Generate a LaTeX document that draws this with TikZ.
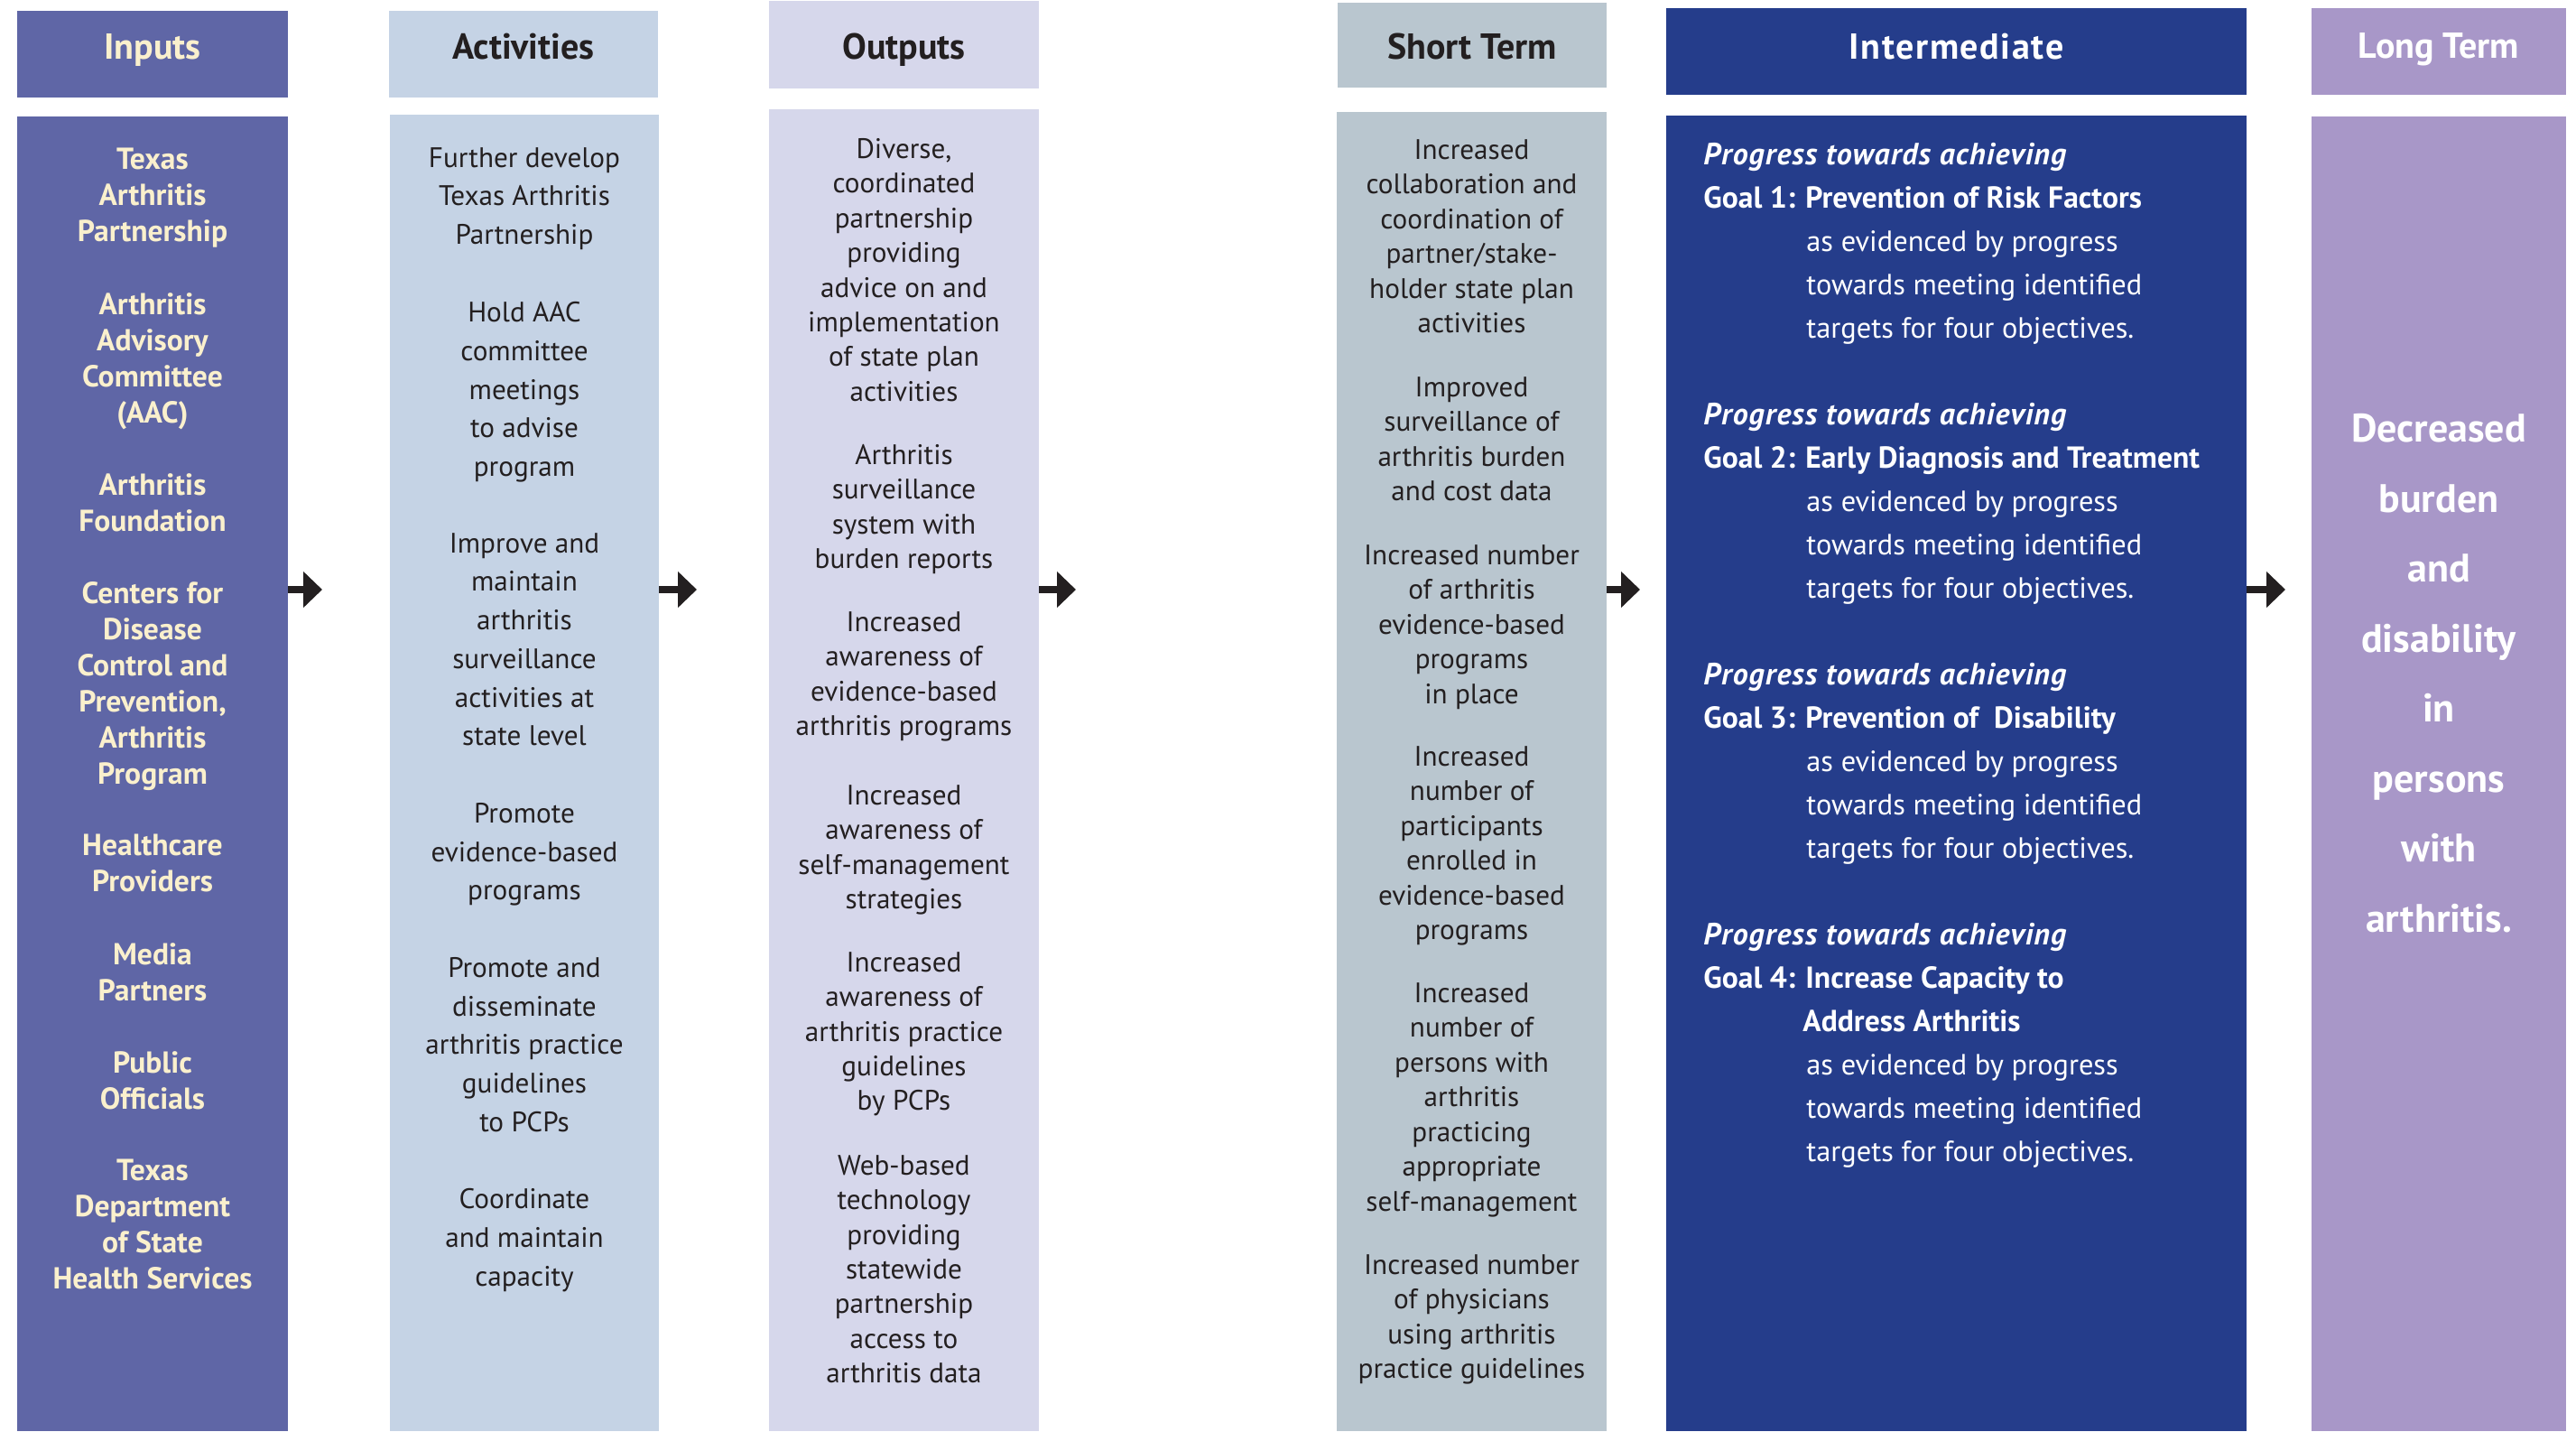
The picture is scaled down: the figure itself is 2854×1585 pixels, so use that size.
\documentclass[tikz,border=0pt]{standalone}
\usepackage{fontspec}
\setmainfont{PT Sans}
\usetikzlibrary{arrows.meta}
\definecolor{cInp}{HTML}{5F66A6}
\definecolor{cCream}{HTML}{FAF0CD}
\definecolor{cAct}{HTML}{C5D3E5}
\definecolor{cOut}{HTML}{D6D7EB}
\definecolor{cShort}{HTML}{B9C6CF}
\definecolor{cInter}{HTML}{253D8B}
\definecolor{cLong}{HTML}{A897C8}
\definecolor{cInk}{HTML}{231F20}
\newcommand\firststrut{\rule{0pt}{20pt}}
\newcommand\progline{{\fontsize{17pt}{24pt}\selectfont\bfseries\itshape\addfontfeatures{LetterSpace=3}Progress towards achieving}}
\newcommand\goalfont{\fontsize{16.8pt}{24pt}\selectfont\bfseries}
\begin{document}
\begin{tikzpicture}[x=0.5pt,y=-0.5pt,
  colbox/.style={draw=none,inner sep=0pt,outer sep=0pt},
  htext/.style={anchor=base,inner sep=0pt,font=\fontsize{20pt}{24pt}\selectfont\bfseries},
  bodytext/.style={anchor=north,inner sep=0pt,align=center,execute at begin node=\firststrut},
  inptext/.style={bodytext,text=cCream,font=\fontsize{16.8pt}{20pt}\selectfont\bfseries},
  acttext/.style={bodytext,text=cInk,font=\fontsize{15.6pt}{21.35pt}\selectfont},
  outtext/.style={bodytext,text=cInk,font=\fontsize{15.6pt}{19.2pt}\selectfont},
  shorttext/.style={bodytext,text=cInk,font=\fontsize{15.6pt}{19.25pt}\selectfont},
  intertext/.style={anchor=north west,inner sep=0pt,align=left,text=white,execute at begin node=\firststrut,font=\fontsize{16.2pt}{24pt}\selectfont},
  longtext/.style={bodytext,text=white,font=\fontsize{22pt}{38.75pt}\selectfont\bfseries},
  arr/.style={draw=cInk,line width=4pt,-{Triangle[length=10.5pt,width=19.5pt]}}
]
\useasboundingbox (0,0) rectangle (2854,1585);
\fill[white] (0,0) rectangle (2854,1585);

% header boxes
\node[colbox,fill=cInp,minimum width=150pt,minimum height=48pt] (hInp) at (169,60) {};
\node[colbox,fill=cAct,minimum width=149pt,minimum height=48pt] (hAct) at (580,60) {};
\node[colbox,fill=cOut,minimum width=149.5pt,minimum height=48.5pt] (hOut) at (1001.5,49.5) {};
\node[colbox,fill=cShort,minimum width=149pt,minimum height=47pt] (hShort) at (1631,50) {};
\node[colbox,fill=cInter,minimum width=321.5pt,minimum height=48pt] (hInter) at (2167.5,57) {};
\node[colbox,fill=cLong,minimum width=141pt,minimum height=48pt] (hLong) at (2702,57) {};

% header texts
\node[htext,text=cCream] (tInp) at (169,65) {Inputs};
\node[htext,text=cInk] (tAct) at (580,65) {Activities};
\node[htext,text=cInk] (tOut) at (1001.5,65) {Outputs};
\node[htext,text=cInk] (tShort) at (1631,65) {Short Term};
\node[htext,text=white] (tInter) at (2167.5,65) {\addfontfeatures{LetterSpace=4}Intermediate};
\node[htext,text=white] (tLong) at (2702,64) {Long Term};

% body boxes
\node[colbox,fill=cInp,minimum width=150pt,minimum height=728pt] (bInp) at (169,857) {};
\node[colbox,fill=cAct,minimum width=149pt,minimum height=729pt] (bAct) at (581,856) {};
\node[colbox,fill=cOut,minimum width=149.5pt,minimum height=732pt] (bOut) at (1001.5,853) {};
\node[colbox,fill=cShort,minimum width=149.5pt,minimum height=730.5pt] (bShort) at (1630.5,854.5) {};
\node[colbox,fill=cInter,minimum width=321.5pt,minimum height=728.5pt] (bInter) at (2167.5,856.5) {};
\node[colbox,fill=cLong,minimum width=141pt,minimum height=728pt] (bLong) at (2702,857) {};

% arrows
\coordinate (e1) at (357,653);
\coordinate (e2) at (772,653);
\coordinate (e3) at (1192,653);
\coordinate (e4) at (1817,653);
\coordinate (e5) at (2532,653);
\draw[arr] (bInp.east |- e1) -- (e1);
\draw[arr] (bAct.east |- e2) -- (e2);
\draw[arr] (bOut.east |- e3) -- (e3);
\draw[arr] (bShort.east |- e4) -- (e4);
\draw[arr] (bInter.east |- e5) -- (e5);

% Inputs
\node[inptext] (i1) at (169,164) {Texas\\Arthritis\\Partnership};
\node[inptext] (i2) at (169,324) {Arthritis\\Advisory\\Committee\\(AAC)};
\node[inptext] (i3) at (169,524) {Arthritis\\Foundation};
\node[inptext] (i4) at (169,644) {Centers for\\Disease\\Control and\\Prevention,\\Arthritis\\Program};
\node[inptext] (i5) at (169,924) {Healthcare\\Providers};
\node[inptext] (i6) at (169,1044) {Media\\Partners};
\node[inptext] (i7) at (169,1164) {Public\\Officials};
\node[inptext] (i8) at (169,1284) {Texas\\Department\\of State\\Health Services};

% Activities
\node[acttext] (a1) at (581,163) {Further develop\\Texas Arthritis\\Partnership};
\node[acttext] (a2) at (581,334) {Hold AAC\\committee\\meetings\\to advise\\program};
\node[acttext] (a3) at (581,590) {Improve and\\maintain\\arthritis\\surveillance\\activities at\\state level};
\node[acttext] (a4) at (581,889) {Promote\\evidence-based\\programs};
\node[acttext] (a5) at (581,1060) {Promote and\\disseminate\\arthritis practice\\guidelines\\to PCPs};
\node[acttext] (a6) at (581,1316) {Coordinate\\and maintain\\capacity};

% Outputs
\node[outtext] (o1) at (1001.5,153) {Diverse,\\coordinated\\partnership\\providing\\advice on and\\implementation\\of state plan\\activities};
\node[outtext] (o2) at (1001.5,492) {Arthritis\\surveillance\\system with\\burden reports};
\node[outtext] (o3) at (1001.5,677) {Increased\\awareness of\\evidence-based\\arthritis programs};
\node[outtext] (o4) at (1001.5,869) {Increased\\awareness of\\self-management\\strategies};
\node[outtext] (o5) at (1001.5,1054) {Increased\\awareness of\\arthritis practice\\guidelines\\by PCPs};
\node[outtext] (o6) at (1001.5,1279) {Web-based\\technology\\providing\\statewide\\partnership\\access to\\arthritis data};

% Short term
\node[shorttext] (s1) at (1630.5,154) {Increased\\collaboration and\\coordination of\\partner/stake-\\holder state plan\\activities};
\node[shorttext] (s2) at (1630.5,417) {Improved\\surveillance of\\arthritis burden\\and cost data};
\node[shorttext] (s3) at (1630.5,603) {Increased number\\of arthritis\\evidence-based\\programs\\in place};
\node[shorttext] (s4) at (1630.5,826) {Increased\\number of\\participants\\enrolled in\\evidence-based\\programs};
\node[shorttext] (s5) at (1630.5,1088) {Increased\\number of\\persons with\\arthritis\\practicing\\appropriate\\self-management};
\node[shorttext] (s6) at (1630.5,1389) {Increased number\\of physicians\\using arthritis\\practice guidelines};

% Intermediate
\node[intertext] (g1) at (1887,158) {\progline\\{\goalfont Goal 1: Prevention of Risk Factors}\\\hspace{57pt}as evidenced by progress\\\hspace{57pt}towards meeting identified\\\hspace{57pt}targets for four objectives.};
\node[intertext] (g2) at (1887,446) {\progline\\{\goalfont Goal 2: Early Diagnosis and Treatment}\\\hspace{57pt}as evidenced by progress\\\hspace{57pt}towards meeting identified\\\hspace{57pt}targets for four objectives.};
\node[intertext] (g3) at (1887,734) {\progline\\{\goalfont Goal 3: Prevention of\ \ Disability}\\\hspace{57pt}as evidenced by progress\\\hspace{57pt}towards meeting identified\\\hspace{57pt}targets for four objectives.};
\node[intertext] (g4) at (1887,1022) {\progline\\{\goalfont Goal 4: Increase Capacity to}\\\hspace{55pt}{\goalfont Address Arthritis}\\\hspace{57pt}as evidenced by progress\\\hspace{57pt}towards meeting identified\\\hspace{57pt}targets for four objectives.};

% Long term
\node[longtext] (l1) at (2702,458) {Decreased\\burden\\and\\disability\\in\\persons\\with\\arthritis.};
\end{tikzpicture}
\end{document}
